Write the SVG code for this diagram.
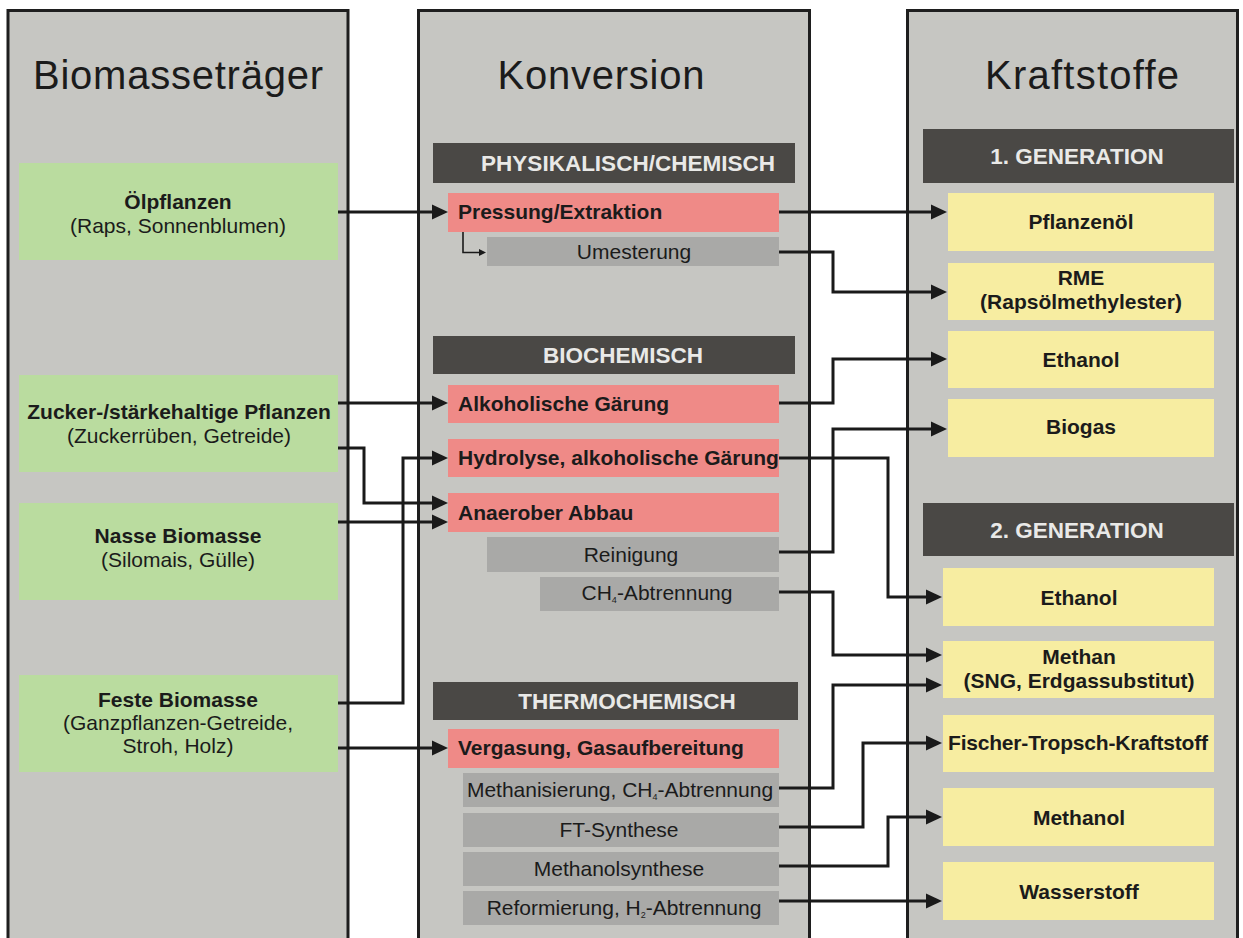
<svg xmlns="http://www.w3.org/2000/svg" width="1243" height="938" viewBox="0 0 1243 938">
<defs>
<style>
text{font-family:"Liberation Sans",Arial,Helvetica,sans-serif;fill:#1b1b1b}
.panel{fill:#c6c6c2;stroke:#1e1e1e;stroke-width:3}
.title{font-size:40px;text-anchor:middle}
.green{fill:#badc9f}
.red{fill:#ef8a87}
.gray{fill:#a9a9a7}
.dark{fill:#4a4845}
.yellow{fill:#f7eda1}
.b{font-weight:bold;font-size:21px}
.n{font-size:21px}
.c{text-anchor:middle}
.hdr{font-weight:bold;font-size:22.5px;fill:#e9e9e7;text-anchor:middle}
.con{fill:none;stroke:#1a1a1a;stroke-width:3;stroke-linejoin:miter}
.thin{fill:none;stroke:#1a1a1a;stroke-width:1.6}
</style>
<marker id="arr" markerUnits="userSpaceOnUse" markerWidth="17" markerHeight="16" refX="6" refY="8" orient="auto">
<path d="M0,0.5 L16,8 L0,15.5 z" fill="#1a1a1a"/>
</marker>
<marker id="sarr" markerUnits="userSpaceOnUse" markerWidth="8" markerHeight="8" refX="2" refY="4" orient="auto">
<path d="M0,0.5 L7,4 L0,7.5 z" fill="#1a1a1a"/>
</marker>
</defs>
<rect width="1243" height="938" fill="#ffffff"/>

<g id="panel-biomasse">
<rect class="panel" x="8" y="10.5" width="340" height="940"/>
<text class="title" x="178" y="89" textLength="290">Biomasseträger</text>
</g>
<g id="panel-konversion">
<rect class="panel" x="418.5" y="10.5" width="391" height="940"/>
<text class="title" x="601" y="89" textLength="207">Konversion</text>
</g>
<g id="panel-kraftstoffe">
<rect class="panel" x="907.5" y="10.5" width="330" height="940"/>
<text class="title" x="1082" y="89" textLength="194">Kraftstoffe</text>
</g>

<g id="oelpflanzen">
<rect class="green" x="19" y="163" width="319" height="97"/>
<text class="b c" x="178" y="209">Ölpflanzen</text>
<text class="n c" x="178" y="233">(Raps, Sonnenblumen)</text>
</g>
<g id="zucker">
<rect class="green" x="19" y="375" width="319" height="97"/>
<text class="b c" x="179" y="419">Zucker-/stärkehaltige Pflanzen</text>
<text class="n c" x="179" y="443">(Zuckerrüben, Getreide)</text>
</g>
<g id="nasse">
<rect class="green" x="19" y="503" width="319" height="97"/>
<text class="b c" x="178" y="543">Nasse Biomasse</text>
<text class="n c" x="178" y="567">(Silomais, Gülle)</text>
</g>
<g id="feste">
<rect class="green" x="19" y="675" width="319" height="97"/>
<text class="b c" x="178" y="707">Feste Biomasse</text>
<text class="n c" x="178" y="730">(Ganzpflanzen-Getreide,</text>
<text class="n c" x="178" y="753">Stroh, Holz)</text>
</g>

<g id="hdr-phys">
<rect class="dark" x="433" y="143" width="362" height="40"/>
<text class="hdr" x="628" y="171">PHYSIKALISCH/CHEMISCH</text>
</g>
<g id="pressung">
<rect class="red" x="448" y="193" width="331" height="39"/>
<text class="b" x="458" y="219">Pressung/Extraktion</text>
</g>
<g id="umesterung">
<rect class="gray" x="487" y="237" width="292" height="29"/>
<text class="n c" x="634" y="259">Umesterung</text>
</g>

<g id="hdr-bio">
<rect class="dark" x="433" y="336" width="362" height="38"/>
<text class="hdr" x="623" y="363">BIOCHEMISCH</text>
</g>
<g id="alkoholische-gaerung">
<rect class="red" x="448" y="385" width="331" height="38"/>
<text class="b" x="458" y="411">Alkoholische Gärung</text>
</g>
<g id="hydrolyse">
<rect class="red" x="448" y="439" width="331" height="38"/>
<text class="b" x="458" y="465">Hydrolyse, alkoholische Gärung</text>
</g>
<g id="anaerober-abbau">
<rect class="red" x="448" y="493" width="331" height="39"/>
<text class="b" x="458" y="520">Anaerober Abbau</text>
</g>
<g id="reinigung">
<rect class="gray" x="487" y="537" width="292" height="35"/>
<text class="n c" x="631" y="562">Reinigung</text>
</g>
<g id="ch4-abtrennung">
<rect class="gray" x="540" y="577" width="239" height="34"/>
<text class="n c" x="657" y="600">CH<tspan font-size="9" dy="3">4</tspan><tspan dy="-3">-Abtrennung</tspan></text>
</g>

<g id="hdr-thermo">
<rect class="dark" x="433" y="682" width="365" height="38"/>
<text class="hdr" x="627" y="709">THERMOCHEMISCH</text>
</g>
<g id="vergasung">
<rect class="red" x="448" y="729" width="331" height="39"/>
<text class="b" x="458" y="755">Vergasung, Gasaufbereitung</text>
</g>
<g id="methanisierung">
<rect class="gray" x="463" y="773" width="316" height="34"/>
<text class="n c" x="620" y="797">Methanisierung, CH<tspan font-size="9" dy="3">4</tspan><tspan dy="-3">-Abtrennung</tspan></text>
</g>
<g id="ft-synthese">
<rect class="gray" x="463" y="813" width="316" height="34"/>
<text class="n c" x="619" y="837">FT-Synthese</text>
</g>
<g id="methanolsynthese">
<rect class="gray" x="463" y="852" width="316" height="34"/>
<text class="n c" x="619" y="876">Methanolsynthese</text>
</g>
<g id="reformierung">
<rect class="gray" x="463" y="891" width="316" height="34"/>
<text class="n c" x="624" y="915">Reformierung, H<tspan font-size="9" dy="3">2</tspan><tspan dy="-3">-Abtrennung</tspan></text>
</g>

<g id="hdr-gen1">
<rect class="dark" x="923" y="129" width="311" height="54"/>
<text class="hdr" x="1077" y="164" font-size="23">1. GENERATION</text>
</g>
<g id="pflanzenoel">
<rect class="yellow" x="948" y="193" width="266" height="58"/>
<text class="b c" x="1081" y="229">Pflanzenöl</text>
</g>
<g id="rme">
<rect class="yellow" x="948" y="263" width="266" height="57"/>
<text class="b c" x="1081" y="285">RME</text>
<text class="b c" x="1081" y="309">(Rapsölmethylester)</text>
</g>
<g id="ethanol1">
<rect class="yellow" x="948" y="331" width="266" height="57"/>
<text class="b c" x="1081" y="367">Ethanol</text>
</g>
<g id="biogas">
<rect class="yellow" x="948" y="399" width="266" height="58"/>
<text class="b c" x="1081" y="434">Biogas</text>
</g>

<g id="hdr-gen2">
<rect class="dark" x="923" y="503" width="311" height="53"/>
<text class="hdr" x="1077" y="538" font-size="23">2. GENERATION</text>
</g>
<g id="ethanol2">
<rect class="yellow" x="943" y="568" width="271" height="58"/>
<text class="b c" x="1079" y="605">Ethanol</text>
</g>
<g id="methan">
<rect class="yellow" x="943" y="641" width="271" height="57"/>
<text class="b c" x="1079" y="664">Methan</text>
<text class="b c" x="1079" y="688">(SNG, Erdgassubstitut)</text>
</g>
<g id="fischer-tropsch">
<rect class="yellow" x="943" y="715" width="271" height="57"/>
<text class="b c" x="1078" y="750" textLength="260">Fischer-Tropsch-Kraftstoff</text>
</g>
<g id="methanol">
<rect class="yellow" x="943" y="788" width="271" height="58"/>
<text class="b c" x="1079" y="825">Methanol</text>
</g>
<g id="wasserstoff">
<rect class="yellow" x="943" y="862" width="271" height="58"/>
<text class="b c" x="1079" y="899">Wasserstoff</text>
</g>

<g id="connectors">
<path class="thin" d="M463,232 V252.5 H481" marker-end="url(#sarr)"/>
<path class="con" d="M338,212 H438" marker-end="url(#arr)"/>
<path class="con" d="M338,403 H438" marker-end="url(#arr)"/>
<path class="con" d="M338,448 H364 V503 H438" marker-end="url(#arr)"/>
<path class="con" d="M338,522 H438" marker-end="url(#arr)"/>
<path class="con" d="M338,703 H403 V458 H438" marker-end="url(#arr)"/>
<path class="con" d="M338,748 H438" marker-end="url(#arr)"/>
<path class="con" d="M779,212 H937" marker-end="url(#arr)"/>
<path class="con" d="M779,252 H833 V292 H937" marker-end="url(#arr)"/>
<path class="con" d="M779,403 H833 V359 H937" marker-end="url(#arr)"/>
<path class="con" d="M779,552 H833 V429 H937" marker-end="url(#arr)"/>
<path class="con" d="M779,458 H888 V597 H932" marker-end="url(#arr)"/>
<path class="con" d="M779,592 H833 V655 H932" marker-end="url(#arr)"/>
<path class="con" d="M779,788 H833 V685 H932" marker-end="url(#arr)"/>
<path class="con" d="M779,827 H863 V743 H932" marker-end="url(#arr)"/>
<path class="con" d="M779,866 H888 V817 H932" marker-end="url(#arr)"/>
<path class="con" d="M779,901 H932" marker-end="url(#arr)"/>
</g>
</svg>
